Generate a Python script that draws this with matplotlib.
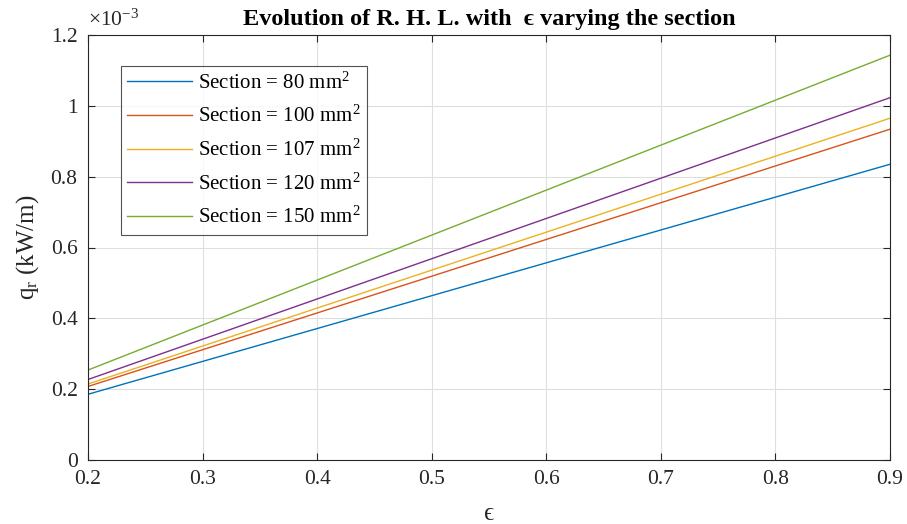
import matplotlib
matplotlib.use("Agg")
import matplotlib.pyplot as plt
import numpy as np

plt.rcParams['font.family'] = ['Liberation Serif', 'DejaVu Serif']
plt.rcParams['mathtext.fontset'] = 'custom'
plt.rcParams['mathtext.rm'] = 'Liberation Serif'
plt.rcParams['mathtext.it'] = 'Liberation Serif:italic'
plt.rcParams['mathtext.bf'] = 'Liberation Serif:bold'

eps = [0.2, 0.9]
sections = [80, 100, 107, 120, 150]
q80 = [0.1856e-3, 0.835e-3]
q100 = [0.2076e-3, 0.934e-3]
q107 = [0.2145e-3, 0.965e-3]
q120 = [0.2273e-3, 1.023e-3]
q150 = [0.2540e-3, 1.143e-3]
series = [q80, q100, q107, q120, q150]
colors = ['#0072BD', '#D95319', '#EDB120', '#7E2F8E', '#77AC30']
xticks = [0.2, 0.3, 0.4, 0.5, 0.6, 0.7, 0.8, 0.9]
yticks = [0, 0.2, 0.4, 0.6, 0.8, 1.0, 1.2]
ytick_labels = ['0', '0.2', '0.4', '0.6', '0.8', '1', '1.2']

fig = plt.figure(figsize=(9.07, 5.24), dpi=100)
ax = fig.add_axes([88/907, 64/524, (890-88)/907, (460-35)/524])

for s, q, c in zip(sections, series, colors):
    ax.plot(eps, np.array(q) * 1e3, color=c, lw=1.0,
            label=f'Section = {s} mm$^\\mathregular{{2}}$')

ax.set_xlim(0.2, 0.9)
ax.set_ylim(0, 1.2)
ax.set_xticks(xticks)
ax.set_xticklabels([f'{t:g}' for t in xticks])
ax.set_yticks(yticks)
ax.set_yticklabels(ytick_labels)
ax.grid(True, color='#dfdfdf', lw=0.8)
ax.set_axisbelow(True)
ax.tick_params(direction='in', top=True, right=True, labelsize=15.5,
               colors='#262626', length=5, width=0.8, pad=7.5)
for sp in ax.spines.values():
    sp.set_color('#262626')
    sp.set_linewidth(0.8)

ax.set_xlabel('\u03f5', fontsize=18, color='#262626', labelpad=10)
ax.set_ylabel(r'q$_\mathregular{r}$ (kW/m)', fontsize=18, color='#262626', labelpad=7)
ax.set_title('Evolution of R. H. L. with  \u03f5 varying the section',
             fontsize=17.5, fontweight='bold', pad=7)
ax.text(0.0, 1.01, r'$\times$10$^{\mathregular{-3}}$', transform=ax.transAxes,
        fontsize=15.5, color='#262626', ha='left', va='bottom')

leg = ax.legend(loc='upper left', bbox_to_anchor=(0.0411, 0.927), fontsize=15,
                frameon=True, fancybox=False, edgecolor='#262626',
                handlelength=3.1, borderpad=0.3, labelspacing=0.6,
                handletextpad=0.3, borderaxespad=0)
leg.get_frame().set_linewidth(0.8)

fig.savefig('out.png', dpi=100)
